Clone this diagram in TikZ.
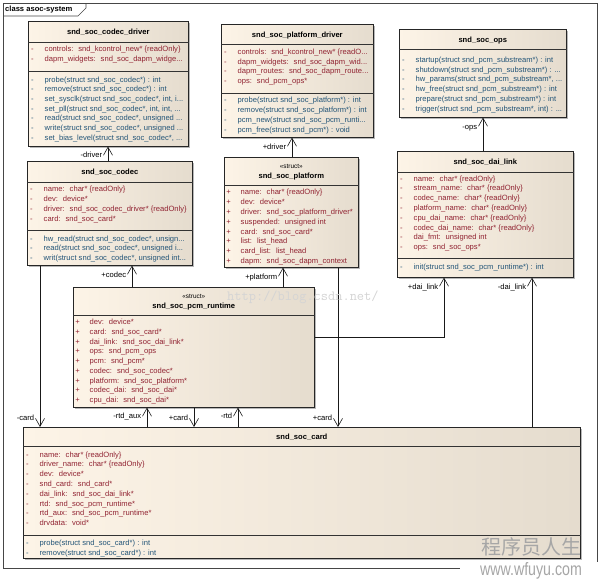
\documentclass[tikz,border=0pt]{standalone}
\usepackage{fontspec}
\setmainfont{Liberation Sans}
\newfontfamily\cjkfont{Noto Sans CJK SC}
\usetikzlibrary{arrows.meta,shadows}

\definecolor{boxL}{RGB}{253,244,231}
\definecolor{boxR}{RGB}{229,220,206}
\definecolor{attrc}{RGB}{145,35,50}
\definecolor{methc}{RGB}{35,85,120}
\definecolor{framec}{RGB}{70,70,70}

\newcommand\tdots{...}

\tikzset{
  classbox/.style={draw=black!85, line width=0.6pt, left color=boxL, right color=boxR,
    inner sep=0pt, anchor=north west,
    drop shadow={shadow xshift=1.5pt, shadow yshift=-1.5pt, fill=black!35, opacity=0.8}},
  sep/.style={draw=black!80, line width=0.5pt},
  txt/.style={inner sep=0pt, font=\fontsize{7.6}{9}\selectfont, text height=5.6pt, text depth=1.6pt},
  title/.style={txt, font=\fontsize{7.6}{9}\selectfont\bfseries},
  stereo/.style={txt, font=\fontsize{6.4}{8}\selectfont},
  attr/.style={txt, text=attrc, anchor=west},
  meth/.style={txt, text=methc, anchor=west},
  lab/.style={txt, anchor=east},
  assoc/.style={draw=black!90, line width=0.6pt, -{Straight Barb[length=8pt,width=9pt]}},
}

% #1 name prefix, #2 left x, #3 first row y, #4 row step, #5 style, #6 marker, #7 rows
\newcommand\umlrows[7]{%
  \foreach \rowtext [count=\i from 0] in {#7}{%
    \node[#5, anchor=center] (#1k\i) at ({#2+4.5},{#3+\i*#4}) {#6};
    \node[#5] (#1r\i) at ({#2+16.5},{#3+\i*#4}) {\rowtext};
  }%
}

\begin{document}
\begin{tikzpicture}[x=1pt,y=-1pt]
\useasboundingbox (0,0) rectangle (600,581);

% frame
\draw[framec, line width=0.7pt] (3,3) rectangle (597,568);
\draw[framec, line width=0.7pt] (3,16) -- (78,16) -- (86,8) -- (86,3);
\node[title, anchor=west] (frameT) at (5,9.5) {class asoc-system};

% ---------- snd_soc_codec_driver
\node[classbox, minimum width=160pt, minimum height=125pt] (cdrv) at (28,21) {};
\draw[sep] ([yshift=-21pt]cdrv.north west) -- ([yshift=-21pt]cdrv.north east);
\draw[sep] ([yshift=-50pt]cdrv.north west) -- ([yshift=-50pt]cdrv.north east);
\node[title] (cdrvT) at ([yshift=-11pt]cdrv.north) {snd\_soc\_codec\_driver};
\umlrows{cdrva}{28}{49.5}{10}{attr}{-}{{controls:~ snd\_kcontrol\_new* \{readOnly\}},
  {dapm\_widgets:~ snd\_soc\_dapm\_widge\tdots}}
\umlrows{cdrvm}{28}{80}{9.67}{meth}{-}{{probe(struct snd\_soc\_codec*) : int},
  {remove(struct snd\_soc\_codec*) : int},
  {set\_sysclk(struct snd\_soc\_codec*, int, i\tdots},
  {set\_pll(struct snd\_soc\_codec*, int, int, \tdots},
  {read(struct snd\_soc\_codec*, unsigned \tdots},
  {write(struct snd\_soc\_codec*, unsigned \tdots},
  {set\_bias\_level(struct snd\_soc\_codec*, \tdots}}

% ---------- snd_soc_platform_driver
\node[classbox, minimum width=152pt, minimum height=113pt] (pdrv) at (221,24) {};
\draw[sep] ([yshift=-20pt]pdrv.north west) -- ([yshift=-20pt]pdrv.north east);
\draw[sep] ([yshift=-69pt]pdrv.north west) -- ([yshift=-69pt]pdrv.north east);
\node[title] (pdrvT) at ([yshift=-11pt]pdrv.north) {snd\_soc\_platform\_driver};
\umlrows{pdrva}{221}{52.3}{9.8}{attr}{-}{{controls:~ snd\_kcontrol\_new* \{readO\tdots},
  {dapm\_widgets:~ snd\_soc\_dapm\_wid\tdots},
  {dapm\_routes:~ snd\_soc\_dapm\_route\tdots},
  {ops:~ snd\_pcm\_ops*}}
\umlrows{pdrvm}{221}{100.8}{10}{meth}{-}{{probe(struct snd\_soc\_platform*) : int},
  {remove(struct snd\_soc\_platform*) : int},
  {pcm\_new(struct snd\_soc\_pcm\_runti\tdots},
  {pcm\_free(struct snd\_pcm*) : void}}

% ---------- snd_soc_ops
\node[classbox, minimum width=167pt, minimum height=88pt] (ops) at (399,29) {};
\draw[sep] ([yshift=-20pt]ops.north west) -- ([yshift=-20pt]ops.north east);
\node[title] (opsT) at ([yshift=-11pt]ops.north) {snd\_soc\_ops};
\umlrows{opsm}{399}{60.3}{9.8}{meth}{-}{{startup(struct snd\_pcm\_substream*) : int},
  {shutdown(struct snd\_pcm\_substream*) : \tdots},
  {hw\_params(struct snd\_pcm\_substream*, \tdots},
  {hw\_free(struct snd\_pcm\_substream*) : int},
  {prepare(struct snd\_pcm\_substream*) : int},
  {trigger(struct snd\_pcm\_substream*, int) : \tdots}}

% ---------- snd_soc_codec
\node[classbox, minimum width=165pt, minimum height=104pt] (codec) at (27,161) {};
\draw[sep] ([yshift=-21pt]codec.north west) -- ([yshift=-21pt]codec.north east);
\draw[sep] ([yshift=-69pt]codec.north west) -- ([yshift=-69pt]codec.north east);
\node[title] (codecT) at ([yshift=-11.5pt]codec.north) {snd\_soc\_codec};
\umlrows{codeca}{27}{189.3}{10}{attr}{-}{{name:~ char* \{readOnly\}},
  {dev:~ device*},
  {driver:~ snd\_soc\_codec\_driver* \{readOnly\}},
  {card:~ snd\_soc\_card*}}
\umlrows{codecm}{27}{239}{9.7}{meth}{-}{{hw\_read(struct snd\_soc\_codec*, unsign\tdots},
  {read(struct snd\_soc\_codec*, unsigned i\tdots},
  {writ(struct snd\_soc\_codec*, unsigned int\tdots}}

% ---------- snd_soc_platform
\node[classbox, minimum width=134pt, minimum height=110pt] (plat) at (224,157) {};
\draw[sep] ([yshift=-28pt]plat.north west) -- ([yshift=-28pt]plat.north east);
\node[stereo] (platS) at ([yshift=-9.5pt]plat.north) {«struct»};
\node[title] (platT) at ([yshift=-19pt]plat.north) {snd\_soc\_platform};
\umlrows{plata}{224}{192.7}{9.85}{attr}{+}{{name:~ char* \{readOnly\}},
  {dev:~ device*},
  {driver:~ snd\_soc\_platform\_driver*},
  {suspended:~ unsigned int},
  {card:~ snd\_soc\_card*},
  {list:~ list\_head},
  {card\_list:~ list\_head},
  {dapm:~ snd\_soc\_dapm\_context}}

% ---------- snd_soc_dai_link
\node[classbox, minimum width=176pt, minimum height=126pt] (dl) at (397,151) {};
\draw[sep] ([yshift=-21pt]dl.north west) -- ([yshift=-21pt]dl.north east);
\draw[sep] ([yshift=-107pt]dl.north west) -- ([yshift=-107pt]dl.north east);
\node[title] (dlT) at ([yshift=-11pt]dl.north) {snd\_soc\_dai\_link};
\umlrows{dla}{397}{179}{9.81}{attr}{-}{{name:~ char* \{readOnly\}},
  {stream\_name:~ char* \{readOnly\}},
  {codec\_name:~ char* \{readOnly\}},
  {platform\_name:~ char* \{readOnly\}},
  {cpu\_dai\_name:~ char* \{readOnly\}},
  {codec\_dai\_name:~ char* \{readOnly\}},
  {dai\_fmt:~ unsigned int},
  {ops:~ snd\_soc\_ops*}}
\umlrows{dlm}{397}{267.7}{9.8}{meth}{-}{{init(struct snd\_soc\_pcm\_runtime*) : int}}

% ---------- snd_soc_pcm_runtime
\node[classbox, minimum width=241pt, minimum height=120pt] (rt) at (73,287) {};
\draw[sep] ([yshift=-28pt]rt.north west) -- ([yshift=-28pt]rt.north east);
\node[stereo] (rtS) at ([yshift=-9.7pt]rt.north) {«struct»};
\node[title] (rtT) at ([yshift=-19pt]rt.north) {snd\_soc\_pcm\_runtime};
\umlrows{rta}{73}{322.7}{9.75}{attr}{+}{{dev:~ device*},
  {card:~ snd\_soc\_card*},
  {dai\_link:~ snd\_soc\_dai\_link*},
  {ops:~ snd\_pcm\_ops},
  {pcm:~ snd\_pcm*},
  {codec:~ snd\_soc\_codec*},
  {platform:~ snd\_soc\_platform*},
  {codec\_dai:~ snd\_soc\_dai*},
  {cpu\_dai:~ snd\_soc\_dai*}}

% ---------- snd_soc_card
\node[classbox, minimum width=557pt, minimum height=131pt] (card) at (23,427) {};
\draw[sep] ([yshift=-19pt]card.north west) -- ([yshift=-19pt]card.north east);
\draw[sep] ([yshift=-108pt]card.north west) -- ([yshift=-108pt]card.north east);
\node[title] (cardT) at ([yshift=-10.5pt]card.north) {snd\_soc\_card};
\umlrows{carda}{23}{455}{9.81}{attr}{-}{{name:~ char* \{readOnly\}},
  {driver\_name:~ char* \{readOnly\}},
  {dev:~ device*},
  {snd\_card:~ snd\_card*},
  {dai\_link:~ snd\_soc\_dai\_link*},
  {rtd:~ snd\_soc\_pcm\_runtime*},
  {rtd\_aux:~ snd\_soc\_pcm\_runtime*},
  {drvdata:~ void*}}
\umlrows{cardm}{23}{543.3}{9.8}{meth}{-}{{probe(struct snd\_soc\_card*) : int},
  {remove(struct snd\_soc\_card*) : int}}

% ---------- connectors
\coordinate (xA) at (108,0);
\coordinate (xB) at (292,0);
\coordinate (xC) at (483,0);
\coordinate (xD) at (132,0);
\coordinate (xE) at (283,0);
\coordinate (el) at (444,337);
\coordinate (xG) at (532,0);
\coordinate (xH) at (40,0);
\coordinate (xI) at (147,0);
\coordinate (xJ) at (194,0);
\coordinate (xK) at (238,0);
\coordinate (xL) at (338,0);

\draw[assoc] (codec.north -| xA) -- (cdrv.south -| xA)
  node[lab, xshift=-5.5pt, yshift=-9pt] {-driver};
\draw[assoc] (plat.north -| xB) -- (pdrv.south -| xB)
  node[lab, xshift=-5.5pt, yshift=-10pt] {+driver};
\draw[assoc] (dl.north -| xC) -- (ops.south -| xC)
  node[lab, xshift=-5.5pt, yshift=-10pt] {-ops};
\draw[assoc] (rt.north -| xD) -- (codec.south -| xD)
  node[lab, xshift=-5.5pt, yshift=-10pt] {+codec};
\draw[assoc] (rt.north -| xE) -- (plat.south -| xE)
  node[lab, xshift=-5.5pt, yshift=-10pt] {+platform};
\draw[assoc] (rt.east |- el) -| (dl.south -| el)
  node[lab, xshift=-5.5pt, yshift=-10pt] {+dai\_link};
\draw[assoc] (card.north -| xG) -- (dl.south -| xG)
  node[lab, xshift=-5.5pt, yshift=-10pt] {-dai\_link};
\draw[assoc] (codec.south -| xH) -- (card.north -| xH)
  node[lab, xshift=-5.5pt, yshift=9pt] {-card};
\draw[assoc] (card.north -| xI) -- (rt.south -| xI)
  node[lab, xshift=-5.5pt, yshift=-9pt] {-rtd\_aux};
\draw[assoc] (rt.south -| xJ) -- (card.north -| xJ)
  node[lab, xshift=-5.5pt, yshift=9pt] {+card};
\draw[assoc] (card.north -| xK) -- (rt.south -| xK)
  node[lab, xshift=-5.5pt, yshift=-9pt] {-rtd};
\draw[assoc] (plat.south -| xL) -- (card.north -| xL)
  node[lab, xshift=-5.5pt, yshift=9pt] {+card};

% ---------- watermarks
\node[inner sep=0pt, anchor=west, text=black!17, font=\ttfamily\fontsize{14}{16}\selectfont] (wm1) at (227,297) {http://blog.csdn.net/};
\fill[white] (460,561.5) rectangle (600,581);
\node[inner sep=0pt, text=black!35, font=\cjkfont\fontsize{20}{22}\selectfont] (wm2) at (531,547) {程序员人生};
\node[inner sep=0pt, text=black!35, xscale=0.79, font=\fontsize{18}{20}\selectfont] (wm3) at (531,571) {www.wfuyu.com};
\end{tikzpicture}
\end{document}
